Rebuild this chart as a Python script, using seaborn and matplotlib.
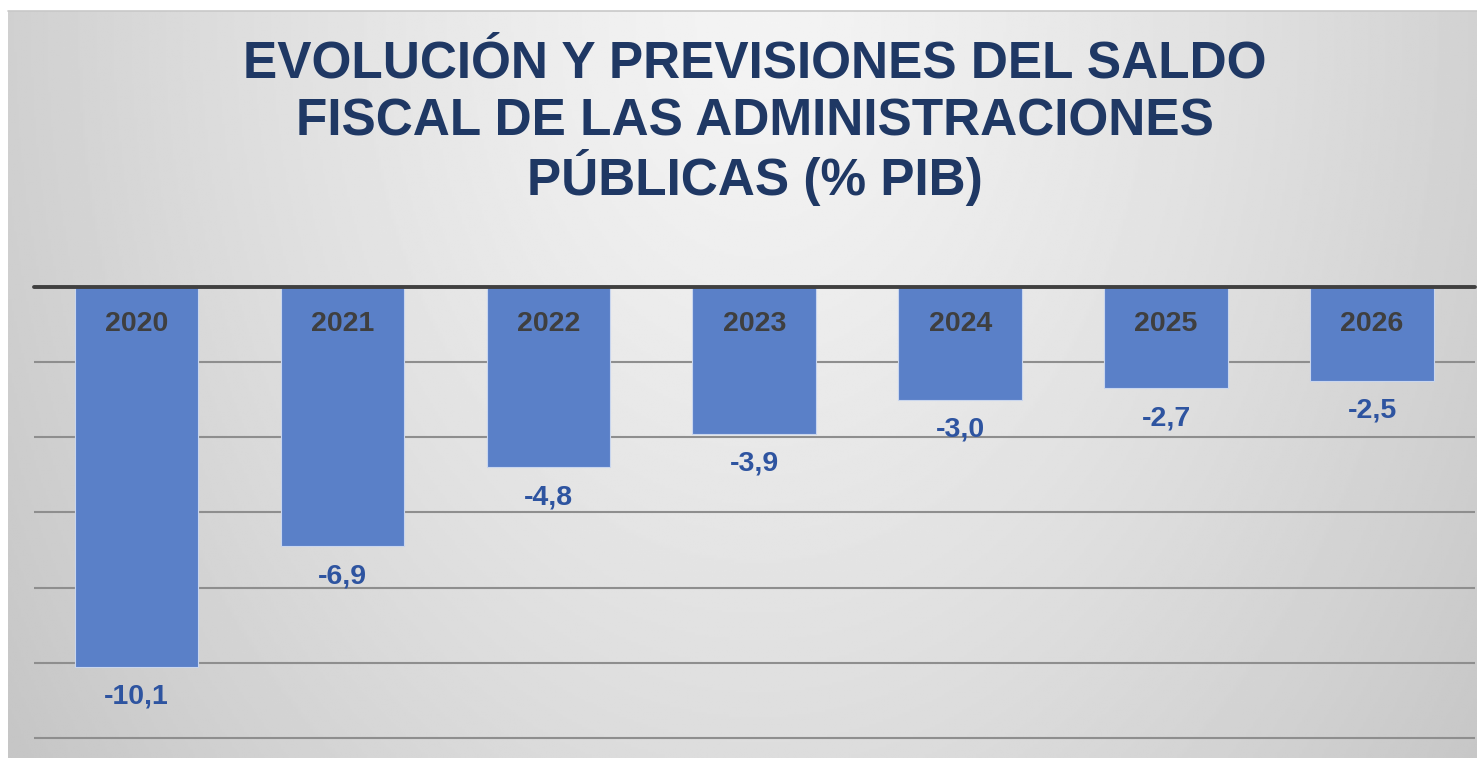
import numpy as np
import pandas as pd
import matplotlib
matplotlib.use("Agg")
import matplotlib.pyplot as plt
import seaborn as sns

years = ["2020", "2021", "2022", "2023", "2024", "2025", "2026"]
values = [-10.1, -6.9, -4.8, -3.9, -3.0, -2.7, -2.5]
value_labels = ["-10,1", "-6,9", "-4,8", "-3,9", "-3,0", "-2,7", "-2,5"]
title_lines = ["EVOLUCIÓN Y PREVISIONES DEL SALDO",
               "FISCAL DE LAS ADMINISTRACIONES",
               "PÚBLICAS (% PIB)"]
yticks = [0, -2, -4, -6, -8, -10, -12]

sns.set_theme(style="white")
plt.rcParams['font.family'] = ['Liberation Sans', 'DejaVu Sans']

W, H = 1477, 758
fig = plt.figure(figsize=(W / 100, H / 100), dpi=100)
fig.patch.set_facecolor("white")

# background panel with radial gradient
bg = fig.add_axes([8 / W, 0, 1 - 8 / W, 1 - 11 / H], zorder=0)
ny, nx = 300, 600
yy, xx = np.mgrid[0:ny, 0:nx]
cx, cy = nx * 0.51, 0
d = np.sqrt(((xx - cx) / (nx * 0.62)) ** 2 + ((yy - cy) / (ny * 1.7)) ** 2)
d = np.clip(d, 0, 1)
shade = 0.955 - 0.18 * d ** 1.3
bg.imshow(shade, cmap="gray", vmin=0, vmax=1, aspect="auto", extent=[0, 1, 0, 1])
bg.set_axis_off()
fig.add_artist(plt.Line2D([8 / W, 1], [1 - 11 / H, 1 - 11 / H], color="#c8c8c8", lw=1.2))

# main axes
scale = 37.58
y0 = 287
ylo = -12.08
top = 1 - y0 / H
bot = 1 - (y0 + scale * (-ylo)) / H
left_px = 33.5
ax = fig.add_axes([left_px / W, bot, (1475 - left_px) / W, top - bot], zorder=1)
ax.patch.set_alpha(0)

df = pd.DataFrame({"year": years, "value": values})
sns.barplot(data=df, x="year", y="value", color="#5A80C8", saturation=1,
            width=0.6, edgecolor="#c9d6ee", linewidth=0.8, ax=ax, zorder=3)

ax.set_xlim(-0.5, 6.5)
ax.set_ylim(ylo, 0)
ax.set_yticks(yticks)
ax.yaxis.grid(True, color="#8e8e8e", lw=1.5)
ax.set_axisbelow(True)
for s in ax.spines.values():
    s.set_visible(False)
ax.tick_params(left=False, bottom=False, labelleft=False, labelbottom=False)
ax.set_xlabel("")
ax.set_ylabel("")
ax.axhline(0, color="#404040", lw=2.8, zorder=5, clip_on=False)

for i, (y, v, lab) in enumerate(zip(years, values, value_labels)):
    ax.annotate(y, (i, 0), xytext=(0, -26.5), textcoords="offset points",
                ha="center", va="center", fontsize=20.5, fontweight="bold",
                color="#3f3f3f", zorder=6)
    ax.annotate(lab, (i, v), xytext=(0, -21.5), textcoords="offset points",
                ha="center", va="center", fontsize=20.5, fontweight="bold",
                color="#2E54A0", zorder=6)

baselines = [77, 136, 195]
for line, b in zip(title_lines, baselines):
    fig.text(755 / W, 1 - b / H, line, ha="center", va="baseline",
             fontsize=37, fontweight="bold", color="#1F3864", zorder=5)

fig.savefig("out.png", dpi=100)
